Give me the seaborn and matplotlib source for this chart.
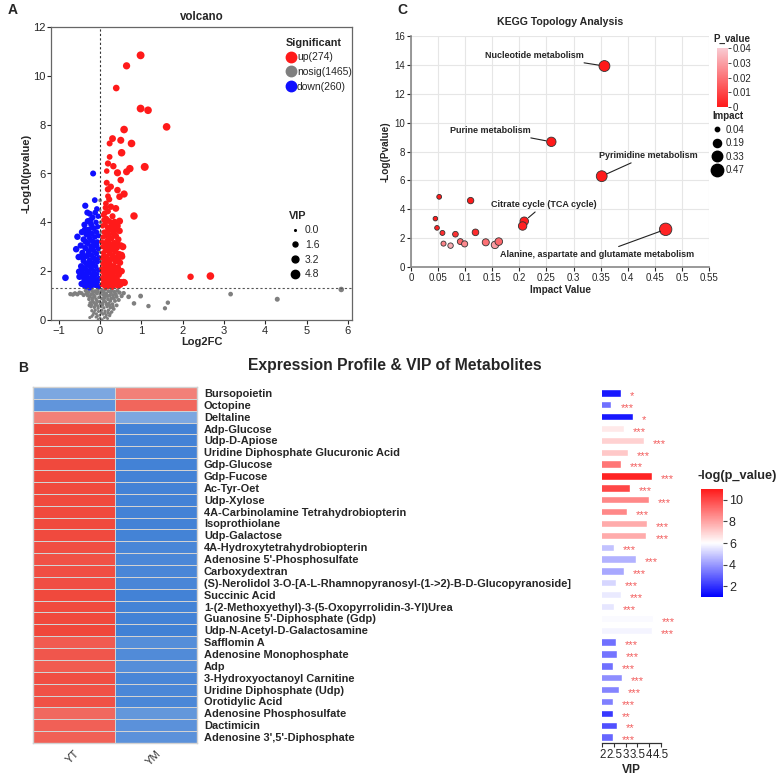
import numpy as np
import pandas as pd
import matplotlib
matplotlib.use('Agg')
import matplotlib.pyplot as plt
import seaborn as sns
from matplotlib.colors import LinearSegmentedColormap, Normalize
from matplotlib.lines import Line2D
import matplotlib.cm as cm

sns.set_theme(style='white')
plt.rcParams['font.family'] = ['Liberation Sans', 'DejaVu Sans']

# ---------------- Volcano data (log2FC, -log10 p, VIP) ----------------
up_points = [
    (0.98, 10.84, 4.3), (0.64, 10.41, 3.6), (0.39, 9.5, 3.0), (0.98, 8.66, 4.2), (1.16, 8.59, 4.0),
    (1.61, 7.91, 4.0), (0.58, 7.8, 4.0), (0.30, 7.43, 3.2), (0.76, 7.23, 4.0), (0.50, 7.36, 3.4),
    (0.23, 7.23, 2.4), (0.52, 6.85, 3.9), (0.23, 6.68, 2.2), (1.08, 6.27, 4.4), (0.72, 6.2, 3.8),
    (0.64, 6.07, 3.4), (0.19, 6.41, 2.6), (0.32, 6.3, 2.8), (0.42, 6.03, 3.5), (0.16, 6.1, 2.0),
    (0.50, 5.73, 3.0), (0.16, 5.62, 2.4), (0.26, 5.46, 2.6), (0.19, 5.35, 2.8), (0.42, 5.32, 2.9),
    (0.58, 5.16, 3.6), (0.47, 5.05, 3.0), (0.19, 5.07, 2.2), (0.22, 4.94, 2.5), (0.14, 4.77, 2.2),
    (0.26, 4.64, 2.8), (0.38, 4.57, 3.2), (0.82, 4.26, 3.8), (0.11, 4.37, 2.3), (0.55, 3.0, 3.4),
    (0.52, 2.66, 3.0), (0.59, 1.53, 3.2), (2.19, 1.77, 2.8), (2.67, 1.8, 4.0), (0.47, 4.05, 3.4),
    (0.42, 3.85, 3.0), (0.35, 3.68, 3.0),
    (0.08, 4.3, 2.0), (0.15, 4.15, 2.2), (0.22, 4.05, 2.4), (0.35, 4.02, 2.6), (0.12, 3.95, 2.1),
    (0.28, 3.9, 2.5), (0.06, 3.85, 1.8), (0.18, 3.8, 2.3), (0.25, 3.7, 2.4), (0.40, 3.72, 2.8),
    (0.47, 3.65, 2.9), (0.10, 3.6, 2.0), (0.32, 3.55, 2.5), (0.21, 3.5, 2.3), (0.14, 3.45, 2.1),
    (0.38, 3.45, 2.7), (0.07, 3.4, 1.9), (0.28, 3.35, 2.4), (0.44, 3.3, 2.8), (0.17, 3.25, 2.2),
    (0.11, 3.15, 2.0), (0.34, 3.15, 2.6), (0.24, 3.1, 2.3), (0.50, 3.05, 3.0), (0.06, 3.0, 1.8),
    (0.19, 2.98, 2.2), (0.40, 2.95, 2.7), (0.29, 2.9, 2.4), (0.13, 2.85, 2.0), (0.36, 2.8, 2.6),
    (0.08, 2.75, 1.9), (0.23, 2.72, 2.3), (0.46, 2.7, 2.8), (0.16, 2.6, 2.1), (0.31, 2.62, 2.5),
    (0.41, 2.55, 2.7), (0.05, 2.55, 1.8), (0.27, 2.5, 2.4), (0.20, 2.45, 2.2), (0.11, 2.42, 2.0),
    (0.37, 2.4, 2.6), (0.48, 2.35, 2.9), (0.07, 2.3, 1.9), (0.15, 2.28, 2.1), (0.25, 2.25, 2.3),
    (0.33, 2.2, 2.5), (0.43, 2.15, 2.7), (0.10, 2.12, 2.0), (0.19, 2.08, 2.2), (0.28, 2.05, 2.4),
    (0.39, 2.0, 2.6), (0.52, 2.0, 2.9), (0.06, 1.98, 1.8), (0.14, 1.95, 2.0), (0.23, 1.92, 2.2),
    (0.31, 1.88, 2.4), (0.45, 1.85, 2.7), (0.09, 1.82, 1.9), (0.18, 1.78, 2.1), (0.36, 1.75, 2.5),
    (0.26, 1.72, 2.3), (0.05, 1.7, 1.8), (0.13, 1.66, 2.0), (0.41, 1.65, 2.6), (0.21, 1.6, 2.2),
    (0.31, 1.58, 2.4), (0.50, 1.55, 2.8), (0.08, 1.52, 1.9), (0.16, 1.5, 2.0), (0.26, 1.46, 2.3),
    (0.37, 1.45, 2.5), (0.11, 1.4, 1.9), (0.20, 1.38, 2.1), (0.30, 1.36, 2.3), (0.44, 1.4, 2.6),
    (0.57, 1.55, 3.0), (0.13, 4.6, 2.2), (0.09, 4.1, 1.9), (0.30, 4.25, 2.5), (0.17, 3.62, 2.2),
    (0.04, 3.2, 1.7), (0.04, 2.1, 1.7), (0.33, 2.95, 2.5), (0.22, 2.35, 2.3), (0.12, 1.85, 2.0),
    (0.27, 3.02, 2.3), (0.15, 3.05, 2.1), (0.35, 2.5, 2.5), (0.20, 2.82, 2.2), (0.43, 2.45, 2.7),
    (0.09, 2.6, 1.9), (0.30, 2.15, 2.4), (0.18, 2.18, 2.1), (0.40, 1.55, 2.6), (0.24, 1.52, 2.2),
    (0.47, 1.95, 2.8), (0.34, 1.65, 2.4), (0.14, 1.35, 2.0), (0.53, 2.6, 3.0), (0.23, 3.3, 2.3),
    (0.41, 3.15, 2.7), (0.31, 3.8, 2.5), (0.19, 4.45, 2.3), (0.05, 1.45, 1.8), (0.49, 1.45, 2.8),
]
down_points = [
    (-0.17, 6.0, 2.4), (-0.13, 4.91, 2.2), (-0.36, 4.68, 2.6), (-0.08, 4.55, 2.0), (-0.12, 4.4, 2.1),
    (-0.25, 4.35, 2.4), (-0.05, 4.25, 1.9), (-0.18, 4.2, 2.2), (-0.30, 4.05, 2.5), (-0.10, 4.0, 2.0),
    (-0.22, 3.92, 2.3), (-0.38, 3.9, 2.6), (-0.06, 3.82, 1.9), (-0.15, 3.75, 2.1), (-0.28, 3.7, 2.4),
    (-0.44, 3.6, 2.7), (-0.09, 3.6, 2.0), (-0.20, 3.55, 2.2), (-0.33, 3.5, 2.5), (-0.55, 3.41, 2.8),
    (-0.04, 3.45, 1.8), (-0.13, 3.4, 2.1), (-0.25, 3.35, 2.3), (-0.40, 3.3, 2.6), (-0.18, 3.22, 2.2),
    (-0.07, 3.2, 1.9), (-0.30, 3.15, 2.4), (-0.47, 3.05, 2.7), (-0.12, 3.05, 2.0), (-0.22, 3.0, 2.3),
    (-0.36, 2.95, 2.5), (-0.05, 2.92, 1.8), (-0.16, 2.85, 2.1), (-0.28, 2.82, 2.4), (-0.43, 2.75, 2.6),
    (-0.09, 2.72, 2.0), (-0.20, 2.65, 2.2), (-0.33, 2.62, 2.5), (-0.52, 2.58, 2.8), (-0.03, 2.55, 1.8),
    (-0.14, 2.52, 2.1), (-0.25, 2.45, 2.3), (-0.40, 2.42, 2.6), (-0.07, 2.38, 1.9), (-0.18, 2.32, 2.2),
    (-0.30, 2.28, 2.4), (-0.46, 2.2, 2.7), (-0.11, 2.2, 2.0), (-0.22, 2.12, 2.3), (-0.36, 2.1, 2.5),
    (-0.04, 2.05, 1.8), (-0.15, 2.0, 2.1), (-0.51, 1.98, 2.8), (-0.27, 1.95, 2.4), (-0.42, 1.9, 2.6),
    (-0.08, 1.88, 1.9), (-0.19, 1.82, 2.2), (-0.33, 1.8, 2.5), (-0.50, 1.77, 2.8), (-0.84, 1.73, 3.0),
    (-0.03, 1.7, 1.8), (-0.13, 1.68, 2.0), (-0.24, 1.65, 2.3), (-0.38, 1.62, 2.5), (-0.07, 1.55, 1.9),
    (-0.17, 1.52, 2.1), (-0.29, 1.5, 2.4), (-0.45, 1.48, 2.6), (-0.11, 1.42, 2.0), (-0.21, 1.4, 2.2),
    (-0.34, 1.38, 2.4), (-0.04, 1.37, 1.8), (-0.26, 1.33, 2.3), (-0.23, 4.1, 2.3), (-0.14, 3.15, 2.1),
    (-0.26, 2.68, 2.3), (-0.10, 2.48, 2.0), (-0.31, 1.98, 2.4), (-0.16, 1.6, 2.1), (-0.38, 1.42, 2.5),
    (-0.35, 3.2, 2.5), (-0.27, 3.55, 2.4), (-0.20, 2.95, 2.2), (-0.42, 2.55, 2.6), (-0.33, 2.3, 2.5),
    (-0.23, 2.2, 2.3), (-0.47, 2.0, 2.7), (-0.29, 1.7, 2.4), (-0.12, 1.85, 2.0), (-0.40, 1.75, 2.6),
    (-0.19, 3.8, 2.2), (-0.31, 4.4, 2.5), (-0.08, 3.05, 1.9), (-0.58, 2.9, 2.9), (-0.37, 3.7, 2.6),
]
nosig_points = [
    (-0.72, 1.06, 1.2), (-0.61, 1.09, 1.2), (-0.66, 1.04, 1.1), (-0.55, 1.05, 1.1), (-0.45, 1.1, 1.0),
    (-0.35, 1.2, 1.0), (-0.28, 1.15, 1.0), (-0.20, 1.22, 0.9), (-0.12, 1.18, 0.9), (-0.05, 1.25, 0.8),
    (0.05, 1.2, 0.8), (0.12, 1.24, 0.9), (0.20, 1.18, 0.9), (0.28, 1.22, 1.0), (0.35, 1.15, 1.0),
    (0.47, 1.12, 1.1), (0.69, 0.95, 1.4), (0.98, 0.98, 1.5), (0.82, 0.68, 1.3), (1.17, 0.57, 1.2),
    (1.57, 0.48, 1.1), (1.64, 0.71, 1.2), (3.16, 1.06, 1.4), (4.29, 0.85, 1.6), (5.84, 1.25, 2.0),
    (-0.30, 1.0, 0.9), (-0.22, 1.05, 0.9), (-0.15, 1.0, 0.8), (-0.08, 1.08, 0.8), (0.00, 1.05, 0.7),
    (0.08, 1.02, 0.8), (0.15, 1.08, 0.8), (0.23, 1.0, 0.9), (0.31, 1.02, 0.9), (0.40, 0.95, 1.0),
    (0.45, 0.82, 1.0), (-0.27, 0.85, 0.8), (-0.18, 0.9, 0.8), (-0.10, 0.85, 0.7), (-0.03, 0.92, 0.7),
    (0.04, 0.88, 0.7), (0.11, 0.9, 0.8), (0.19, 0.85, 0.8), (0.27, 0.88, 0.9), (0.36, 0.78, 0.9),
    (-0.24, 0.7, 0.8), (-0.16, 0.72, 0.7), (-0.09, 0.68, 0.7), (-0.02, 0.75, 0.6), (0.06, 0.7, 0.7),
    (0.13, 0.74, 0.7), (0.21, 0.68, 0.8), (0.30, 0.65, 0.8), (0.40, 0.6, 0.9), (-0.22, 0.55, 0.7),
    (-0.14, 0.52, 0.7), (-0.06, 0.58, 0.6), (0.02, 0.55, 0.6), (0.09, 0.5, 0.6), (0.17, 0.55, 0.7),
    (0.25, 0.5, 0.7), (0.33, 0.45, 0.8), (-0.20, 0.38, 0.6), (-0.12, 0.4, 0.6), (-0.04, 0.35, 0.5),
    (0.04, 0.4, 0.5), (0.12, 0.36, 0.6), (0.20, 0.4, 0.6), (0.28, 0.33, 0.7), (-0.17, 0.22, 0.5),
    (-0.09, 0.25, 0.5), (-0.01, 0.2, 0.4), (0.07, 0.24, 0.5), (0.15, 0.2, 0.5), (0.23, 0.18, 0.6),
    (-0.25, 0.1, 0.5), (-0.10, 0.12, 0.4), (0.00, 0.08, 0.3), (0.10, 0.1, 0.4), (0.18, 0.06, 0.4),
    (-0.05, 0.03, 0.3), (0.05, 0.02, 0.3), (-0.26, 0.6, 0.8), (-0.19, 0.8, 0.8), (0.26, 1.12, 0.9),
    (0.00, 4.9, 0.8), (-0.01, 4.5, 0.7), (0.01, 4.0, 0.7), (0.02, 3.6, 0.6), (0.00, 3.2, 0.6),
    (-0.02, 2.8, 0.6), (0.01, 2.4, 0.6), (0.00, 2.0, 0.5), (-0.01, 1.7, 0.5), (0.02, 1.45, 0.5),
    (-0.33, 1.08, 1.0), (-0.25, 0.95, 0.9), (-0.13, 0.95, 0.8), (-0.06, 1.15, 0.8), (0.02, 1.15, 0.7),
    (0.09, 1.12, 0.8), (0.18, 0.98, 0.8), (0.25, 0.78, 0.8), (0.33, 0.9, 0.9), (0.38, 1.05, 1.0),
    (-0.21, 0.62, 0.7), (-0.12, 0.62, 0.7), (-0.05, 0.48, 0.6), (0.06, 0.62, 0.6), (0.15, 0.64, 0.7),
    (0.23, 0.6, 0.7), (0.31, 0.55, 0.8), (-0.15, 0.3, 0.6), (-0.07, 0.15, 0.5), (0.03, 0.3, 0.5),
    (0.11, 0.28, 0.5), (0.19, 0.3, 0.6), (-0.20, 0.15, 0.5), (0.14, 0.13, 0.5), (0.24, 0.25, 0.6),
    (-0.50, 1.12, 1.1), (-0.40, 1.02, 1.0), (0.42, 1.2, 1.0), (0.52, 0.98, 1.1), (0.57, 1.1, 1.2),
    (-0.17, 1.12, 0.9), (0.13, 0.98, 0.8), (-0.08, 0.78, 0.7), (0.01, 0.65, 0.6), (0.09, 0.8, 0.7),
]
up_label, nosig_label, down_label = 'up(274)', 'nosig(1465)', 'down(260)'

# ---------------- KEGG topology data ----------------
kegg_impact = [0.357, 0.259, 0.352, 0.209, 0.206, 0.470, 0.052, 0.110, 0.045, 0.048,
               0.058, 0.082, 0.119, 0.060, 0.073, 0.091, 0.099, 0.138, 0.155, 0.162]
kegg_nlp = [13.92, 8.67, 6.29, 3.17, 2.84, 2.61, 4.86, 4.60, 3.35, 2.71,
            2.36, 2.27, 2.40, 1.62, 1.48, 1.76, 1.60, 1.71, 1.53, 1.76]
kegg_labels = ['Nucleotide metabolism', 'Purine metabolism', 'Pyrimidine metabolism',
               'Citrate cycle (TCA cycle)', 'Alanine, aspartate and glutamate metabolism']
kegg_label_idx = [0, 1, 2, 3, 5]
kegg_label_pos = [(0.228, 14.68), (0.146, 9.48), (0.438, 7.75), (0.246, 4.35), (0.344, 0.88)]

# ---------------- Heatmap / VIP data ----------------
metabolites = ['Bursopoietin', 'Octopine', 'Deltaline', 'Adp-Glucose', 'Udp-D-Apiose',
               'Uridine Diphosphate Glucuronic Acid', 'Gdp-Glucose', 'Gdp-Fucose', 'Ac-Tyr-Oet',
               'Udp-Xylose', '4A-Carbinolamine Tetrahydrobiopterin', 'Isoprothiolane', 'Udp-Galactose',
               '4A-Hydroxytetrahydrobiopterin', "Adenosine 5'-Phosphosulfate", 'Carboxydextran',
               '(S)-Nerolidol 3-O-[A-L-Rhamnopyranosyl-(1->2)-B-D-Glucopyranoside]', 'Succinic Acid',
               '1-(2-Methoxyethyl)-3-(5-Oxopyrrolidin-3-Yl)Urea', "Guanosine 5'-Diphosphate (Gdp)",
               'Udp-N-Acetyl-D-Galactosamine', 'Safflomin A', 'Adenosine Monophosphate', 'Adp',
               '3-Hydroxyoctanoyl Carnitine', 'Uridine Diphosphate (Udp)', 'Orotidylic Acid',
               'Adenosine Phosphosulfate', 'Dactimicin', "Adenosine 3',5'-Diphosphate"]
groups = ['YT', 'YM']
yt_scaled = [-0.67, -0.82, 0.67, 0.98, 0.98, 0.98, 0.98, 0.98, 0.98, 0.98,
             0.98, 0.98, 0.97, 0.95, 0.93, 0.95, 0.95, 0.98, 0.97, 0.98,
             0.99, 0.88, 0.90, 0.88, 0.95, 0.93, 0.93, 0.80, 0.85, 0.85]
ym_scaled = [0.67, 0.82, -0.67, -0.98, -0.98, -0.98, -0.98, -0.98, -0.98, -0.98,
             -0.98, -0.98, -0.97, -0.95, -0.93, -0.95, -0.95, -0.98, -0.97, -0.98,
             -0.99, -0.88, -0.90, -0.88, -0.95, -0.93, -0.93, -0.80, -0.85, -0.85]
vip = [2.80, 2.39, 3.33, 2.91, 3.79, 3.09, 2.81, 4.13, 3.17, 4.01,
       3.06, 3.90, 3.89, 2.50, 3.43, 2.91, 2.59, 2.80, 2.50, 4.16,
       4.13, 2.59, 2.63, 2.44, 2.83, 2.73, 2.44, 2.47, 2.61, 2.44]
neg_log_p = [1.5, 3.2, 1.5, 6.5, 7.0, 7.2, 9.0, 10.8, 10.0, 8.6,
             8.6, 7.8, 7.8, 4.8, 4.5, 4.3, 5.2, 5.6, 5.5, 5.9,
             5.8, 3.2, 3.3, 3.2, 3.8, 3.6, 3.5, 2.1, 2.6, 3.0]
stars = ['*', '***', '*', '***', '***', '***', '***', '***', '***', '***',
         '***', '***', '***', '***', '***', '***', '***', '***', '***', '***',
         '***', '***', '***', '***', '***', '***', '***', '**', '**', '***']

W, H = 778, 775
fig = plt.figure(figsize=(W / 100, H / 100), dpi=100)


def ax_px(l, t, r, b):
    return fig.add_axes([l / W, 1 - b / H, (r - l) / W, (b - t) / H])


# ================= Panel A: volcano =================
axA = ax_px(51, 27, 352, 320)
rows = []
for g, pts in (('nosig', nosig_points), ('down', down_points), ('up', up_points)):
    for x, y, v in pts:
        rows.append((x, y, v, g))
vdf = pd.DataFrame(rows, columns=['fc', 'nlp', 'vip', 'group'])
vpal = {'up': '#FF1A1A', 'nosig': '#7F7F7F', 'down': '#0F0FFF'}
s_min, s_max = 1.5, 36
sns.scatterplot(data=vdf, x='fc', y='nlp', hue='group', palette=vpal, size='vip',
                sizes=(s_min, s_max), size_norm=(0, 4.8), linewidth=0, legend=False, ax=axA)
axA.axvline(0, color='#333333', ls=(0, (2, 2)), lw=0.8)
axA.axhline(1.3, color='#555555', ls=(0, (2, 2)), lw=0.8)
axA.set_xlim(-1.19, 6.1)
axA.set_ylim(0, 12)
axA.set_xticks(range(-1, 7))
axA.set_yticks(range(0, 13, 2))
axA.tick_params(labelsize=8, length=3, width=0.8, direction='out', bottom=True, left=True, pad=1)
for sp in axA.spines.values():
    sp.set_color('#666666')
    sp.set_linewidth(0.9)
axA.set_xlabel('Log2FC', fontsize=8, weight='bold', labelpad=1)
axA.set_ylabel('-Log10(pvalue)', fontsize=8, weight='bold', labelpad=1)
axA.set_title('volcano', fontsize=8.3, weight='bold', pad=5)

h_sig = [Line2D([], [], marker='o', ls='', color=vpal[k], markersize=7.5)
         for k in ('up', 'nosig', 'down')]
leg1 = axA.legend(h_sig, [up_label, nosig_label, down_label], title='Significant',
                  loc='upper right', bbox_to_anchor=(1.02, 0.985), frameon=False,
                  fontsize=7.5, title_fontproperties={'weight': 'bold', 'size': 7.8},
                  handletextpad=0.1, labelspacing=0.45, borderaxespad=0.2, handlelength=1.0)
leg1._legend_box.align = 'left'
axA.add_artist(leg1)
vip_levels = [0.0, 1.6, 3.2, 4.8]
h_vip = [Line2D([], [], marker='o', ls='', color='black',
                markersize=np.sqrt(s_min + (s_max - s_min) * v / 4.8)) for v in vip_levels]
leg2 = axA.legend(h_vip, ['%.1f' % v for v in vip_levels], title='VIP', loc='upper left',
                  bbox_to_anchor=(0.76, 0.405), frameon=False, fontsize=7.5,
                  title_fontproperties={'weight': 'bold', 'size': 7.8},
                  handletextpad=0.3, labelspacing=0.45, handlelength=1.2)
leg2._legend_box.align = 'left'

# ================= Panel C: KEGG =================
axC = ax_px(411, 36, 709, 267)
kdf = pd.DataFrame({'impact': kegg_impact, 'nlp': kegg_nlp})
kdf['pval'] = 10 ** (-kdf['nlp'])
kcmap = LinearSegmentedColormap.from_list('kegg', ['#FF1A1A', '#F9CBD3'])
knorm = Normalize(0, 0.04)
ks_min, ks_max = 10, 80
axC.grid(True, color='#E6E6E6', lw=0.8)
axC.set_axisbelow(True)
sns.scatterplot(data=kdf, x='impact', y='nlp', hue='pval', palette=kcmap, hue_norm=knorm,
                size='impact', sizes=(ks_min, ks_max), size_norm=(0.04, 0.47),
                edgecolor='#333333', linewidth=0.6, legend=False, ax=axC, zorder=3)
for lab, idx, (tx, ty) in zip(kegg_labels, kegg_label_idx, kegg_label_pos):
    axC.annotate(lab, xy=(kegg_impact[idx], kegg_nlp[idx]), xytext=(tx, ty),
                 fontsize=6.5, weight='bold', ha='center', va='center', zorder=4,
                 arrowprops=dict(arrowstyle='-', color='#222222', lw=0.8, shrinkA=0, shrinkB=4))
axC.set_xlim(0, 0.55)
axC.set_ylim(0, 16)
xt = [0, 0.05, 0.1, 0.15, 0.2, 0.25, 0.3, 0.35, 0.4, 0.45, 0.5, 0.55]
axC.set_xticks(xt)
axC.set_xticklabels(['%g' % v for v in xt])
axC.set_yticks(range(0, 17, 2))
axC.tick_params(labelsize=7, length=3, width=0.8, direction='out', bottom=True, left=True, pad=1.5)
for k in ('top', 'right'):
    axC.spines[k].set_visible(False)
for k in ('left', 'bottom'):
    axC.spines[k].set_color('#888888')
    axC.spines[k].set_linewidth(1.2)
axC.set_xlabel('Impact Value', fontsize=7.2, weight='bold', labelpad=1)
axC.set_ylabel('-Log(Pvalue)', fontsize=7.2, weight='bold', labelpad=2)
axC.set_title('KEGG Topology Analysis', fontsize=7.6, weight='bold', pad=8)

caxC = ax_px(717, 48, 728, 107)
cbC = fig.colorbar(cm.ScalarMappable(norm=knorm, cmap=kcmap), cax=caxC)
cbC.set_ticks([0, 0.01, 0.02, 0.03, 0.04])
cbC.set_ticklabels(['0', '0.01', '0.02', '0.03', '0.04'])
cbC.ax.tick_params(labelsize=7, length=2, width=0.6, pad=1)
cbC.outline.set_visible(False)
fig.text(732 / W, 1 - 39 / H, 'P_value', fontsize=7, weight='bold', ha='center', va='center')

imp_levels = [0.04, 0.19, 0.33, 0.47]
h_imp = [Line2D([], [], marker='o', ls='', color='black',
                markersize=np.sqrt(ks_min + (ks_max - ks_min) * (v - 0.04) / 0.43)) for v in imp_levels]
legC = axC.legend(h_imp, ['%.2f' % v for v in imp_levels], title='Impact', loc='upper left',
                  bbox_to_anchor=(0.995, 0.69), frameon=False, fontsize=7,
                  title_fontproperties={'weight': 'bold', 'size': 7},
                  handletextpad=0.3, labelspacing=0.35, handlelength=1.2, borderaxespad=0)

# ================= Panel B: heatmap + VIP bars =================
axH = ax_px(33, 387, 197, 743)
hdf = pd.DataFrame({'YT': yt_scaled, 'YM': ym_scaled}, index=metabolites)[groups]
hcmap = LinearSegmentedColormap.from_list('hm', ['#4080D5', '#F5F5F5', '#F0463A'])
sns.heatmap(hdf, cmap=hcmap, vmin=-1, vmax=1, cbar=False, linewidths=0.6,
            linecolor='#D2D2D2', ax=axH)
axH.yaxis.tick_right()
axH.set_yticks(np.arange(len(metabolites)) + 0.5)
axH.set_yticklabels(metabolites, rotation=0, fontsize=7.9, weight='bold', ha='left')
axH.set_xticklabels(groups, rotation=45, ha='right', va='top', rotation_mode='anchor',
                    fontsize=8, color='#333333')
axH.tick_params(axis='y', length=0, pad=5)
axH.tick_params(axis='x', length=0, pad=4)
for sp in axH.spines.values():
    sp.set_visible(True)
    sp.set_color('#D2D2D2')
    sp.set_linewidth(1.0)
axH.set_xlabel('')
axH.set_ylabel('')

axV = ax_px(602.3, 387, 660.7, 743)
vcmap = LinearSegmentedColormap.from_list('vip', ['#0000FF', '#FFFFFF', '#FF1A1A'])
vnorm = Normalize(1, 11)
bdf = pd.DataFrame({'name': metabolites, 'vip': vip, 'nlp': neg_log_p})
bpal = {n: vcmap(vnorm(p)) for n, p in zip(metabolites, neg_log_p)}
sns.barplot(data=bdf, x='vip', y='name', hue='name', palette=bpal, legend=False,
            width=0.62, orient='h', ax=axV, saturation=1)
for i, (v, s) in enumerate(zip(vip, stars)):
    axV.text(v + 0.38, i + 0.28, s, fontsize=8, color='#F25C5C', ha='left', va='center',
             clip_on=False)
axV.set_xlim(2, 4.5)
vt = [2, 2.5, 3, 3.5, 4, 4.5]
axV.set_xticks(vt)
axV.set_xticklabels(['%g' % v for v in vt])
axV.set_yticks([])
axV.set_ylabel('')
axV.set_xlabel('VIP', fontsize=8.5, weight='bold', labelpad=2)
axV.tick_params(axis='x', labelsize=8.3, length=3, width=0.8, bottom=True, pad=1.5, color='#333333')
for k in ('top', 'right', 'left'):
    axV.spines[k].set_visible(False)
axV.spines['bottom'].set_color('#333333')
axV.spines['bottom'].set_linewidth(0.9)

caxV = ax_px(701, 489, 722.7, 597)
cbV = fig.colorbar(cm.ScalarMappable(norm=vnorm, cmap=vcmap), cax=caxV)
cbV.set_ticks([2, 4, 6, 8, 10])
cbV.ax.tick_params(labelsize=9, length=3, width=0.8, pad=1.5, color='#444444')
cbV.outline.set_visible(False)
fig.text(736.7 / W, 1 - 475.7 / H, '-log(p_value)', fontsize=9.2, weight='bold',
         ha='center', va='center')

fig.text(0.508, 1 - 366 / H, 'Expression Profile & VIP of Metabolites', fontsize=11.3,
         weight='bold', ha='center', va='center')

# panel letters
fig.text(8 / W, 1 - 10 / H, 'A', fontsize=10, weight='bold', ha='left', va='center')
fig.text(397 / W, 1 - 10 / H, 'C', fontsize=10, weight='bold', ha='left', va='center')
fig.text(18 / W, 1 - 368 / H, 'B', fontsize=10, weight='bold', ha='left', va='center')

fig.savefig('out.png', dpi=100)
